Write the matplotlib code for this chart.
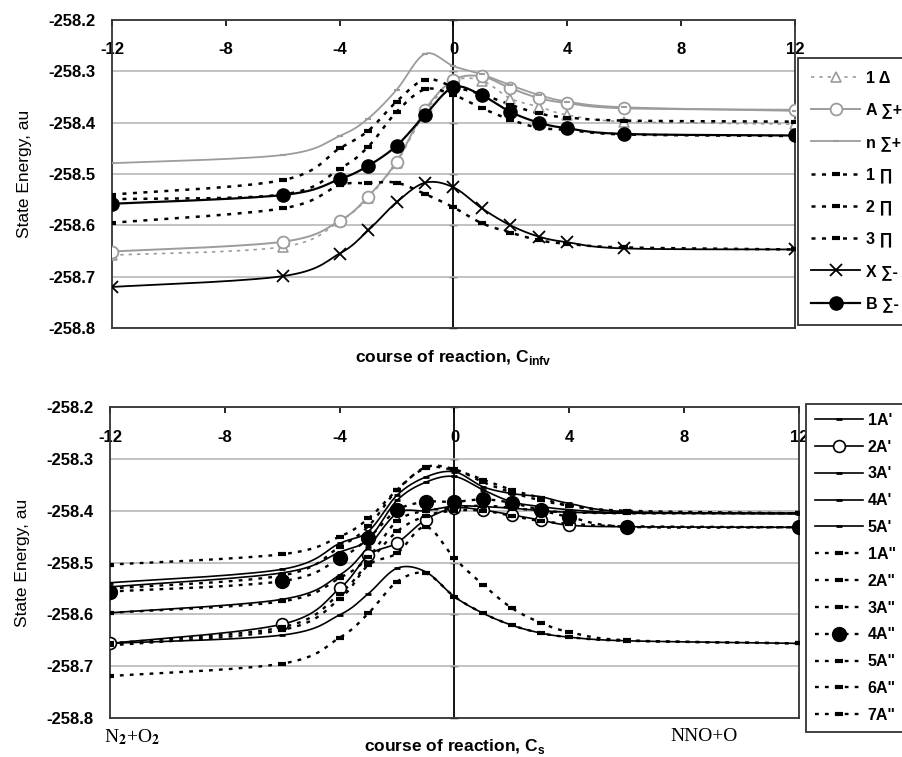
import numpy as np
import matplotlib
matplotlib.use('Agg')
import matplotlib.pyplot as plt
from matplotlib.lines import Line2D

plt.rcParams['font.family'] = ['Liberation Sans', 'DejaVu Sans']
plt.rcParams['font.weight'] = 'bold'
plt.rcParams['axes.unicode_minus'] = False
plt.rcParams['mathtext.fontset'] = 'custom'
plt.rcParams['mathtext.bf'] = 'Liberation Sans:bold'
plt.rcParams['mathtext.rm'] = 'Liberation Sans:bold'

# reaction coordinate (both panels)
x = [-12, -6, -4, -3, -2, -1, 0, 1, 2, 3, 4, 6, 12]

# --- top panel, C_infv states ---
d1 = [-258.658, -258.642, -258.592, -258.546, -258.478, -258.380, -258.320,
      -258.318, -258.353, -258.369, -258.385, -258.398, -258.403]
a_sp = [-258.651, -258.632, -258.591, -258.544, -258.476, -258.375, -258.317,
        -258.310, -258.333, -258.352, -258.362, -258.372, -258.375]
n_sp = [-258.479, -258.463, -258.426, -258.392, -258.336, -258.266, -258.290,
        -258.306, -258.327, -258.346, -258.359, -258.370, -258.377]
p1 = [-258.540, -258.512, -258.450, -258.416, -258.359, -258.316, -258.330,
      -258.345, -258.365, -258.382, -258.390, -258.396, -258.398]
p2 = [-258.549, -258.540, -258.490, -258.447, -258.379, -258.335, -258.346,
      -258.372, -258.394, -258.410, -258.414, -258.423, -258.426]
p3 = [-258.595, -258.567, -258.522, -258.518, -258.517, -258.539, -258.565,
      -258.596, -258.614, -258.629, -258.636, -258.643, -258.647]
x_sm = [-258.720, -258.699, -258.655, -258.610, -258.555, -258.517, -258.526,
        -258.567, -258.600, -258.622, -258.633, -258.645, -258.647]
b_sm = [-258.558, -258.541, -258.510, -258.484, -258.445, -258.385, -258.331,
        -258.347, -258.379, -258.400, -258.411, -258.422, -258.425]
top_labels = ['1 Δ', 'A ∑+', 'n ∑+', '1 ∏', '2 ∏', '3 ∏', 'X ∑-', 'B ∑-']

# --- bottom panel, C_s states ---
s1 = [-258.656, -258.640, -258.601, -258.560, -258.511, -258.518, -258.566,
      -258.598, -258.621, -258.636, -258.644, -258.651, -258.656]
s2 = [-258.656, -258.619, -258.550, -258.486, -258.462, -258.417, -258.395,
      -258.399, -258.408, -258.418, -258.428, -258.431, -258.432]
s3 = [-258.597, -258.571, -258.524, -258.470, -258.405, -258.400, -258.391,
      -258.392, -258.395, -258.400, -258.403, -258.405, -258.405]
s4 = [-258.539, -258.513, -258.463, -258.440, -258.370, -258.335, -258.325,
      -258.354, -258.367, -258.373, -258.386, -258.402, -258.405]
s5 = [-258.547, -258.520, -258.480, -258.455, -258.380, -258.345, -258.334,
      -258.360, -258.383, -258.392, -258.398, -258.404, -258.406]
t1 = [-258.504, -258.484, -258.450, -258.415, -258.360, -258.316, -258.320,
      -258.345, -258.365, -258.380, -258.390, -258.402, -258.405]
t2 = [-258.656, -258.625, -258.560, -258.500, -258.440, -258.410, -258.400,
      -258.400, -258.410, -258.420, -258.425, -258.430, -258.432]
t3 = [-258.550, -258.525, -258.470, -258.430, -258.360, -258.318, -258.322,
      -258.340, -258.360, -258.375, -258.390, -258.400, -258.405]
t4 = [-258.556, -258.536, -258.492, -258.453, -258.399, -258.383, -258.383,
      -258.378, -258.385, -258.399, -258.412, -258.431, -258.432]
t5 = [-258.597, -258.575, -258.530, -258.490, -258.420, -258.400, -258.395,
      -258.390, -258.395, -258.400, -258.403, -258.405, -258.405]
t6 = [-258.660, -258.630, -258.570, -258.505, -258.482, -258.431, -258.492,
      -258.543, -258.588, -258.616, -258.634, -258.650, -258.656]
t7 = [-258.719, -258.695, -258.645, -258.598, -258.537, -258.521, -258.566,
      -258.598, -258.621, -258.636, -258.644, -258.651, -258.656]
bot_labels = ["1A'", "2A'", "3A'", "4A'", "5A'",
              '1A"', '2A"', '3A"', '4A"', '5A"', '6A"', '7A"']

yticks = [-258.8, -258.7, -258.6, -258.5, -258.4, -258.3, -258.2]
xticks = [-12, -8, -4, 0, 4, 8, 12]

GREY = '#9c9c9c'
DOT = (0, (1.6, 2.6))


def smooth(xv, yv, n=16):
    # excel style smoothed line (catmull-rom bezier)
    pts = np.column_stack([xv, yv]).astype(float)
    p = np.vstack([pts[0], pts, pts[-1]])
    t = np.linspace(0, 1, n, endpoint=False)[:, None]
    out = []
    for i in range(1, len(p) - 2):
        p0, q1, q2, p3_ = p[i - 1], p[i], p[i + 1], p[i + 2]
        c1 = q1 + (q2 - p0) / 6
        c2 = q2 - (p3_ - q1) / 6
        out.append((1 - t) ** 3 * q1 + 3 * (1 - t) ** 2 * t * c1
                   + 3 * (1 - t) * t ** 2 * c2 + t ** 3 * q2)
    out.append(pts[-1:])
    out = np.vstack(out)
    return out[:, 0], out[:, 1]


def draw(ax, yv, label, ls='-', color='black', lw=1.2, z=3, **mk):
    sx, sy = smooth(x, yv)
    ax.plot(sx, sy, ls=ls, color=color, lw=lw, zorder=z)
    ax.plot(x, yv, ls='none', color=color, zorder=z + 0.5, **mk)
    return Line2D([], [], ls=ls, color=color, lw=lw, label=label, **mk)


def setup(ax):
    ax.set_xlim(-12, 12)
    ax.set_ylim(-258.8, -258.2)
    ax.set_yticks(yticks)
    ax.set_yticklabels([f'{v:.1f}' for v in yticks])
    ax.tick_params(axis='y', length=0, pad=12, labelsize=12)
    ax.xaxis.tick_top()
    ax.set_xticks(xticks)
    ax.set_xticklabels([str(v) for v in xticks])
    ax.tick_params(axis='x', direction='in', length=4, width=1.2,
                   pad=-27, labelsize=12)
    ax.grid(axis='y', color='#b8b8b8', lw=1.2)
    ax.set_axisbelow(True)
    for sp in ax.spines.values():
        sp.set_linewidth(1.3)
        sp.set_color('#333333')
    sec = ax.secondary_yaxis(0.5)
    sec.set_yticks(yticks)
    sec.tick_params(axis='y', direction='inout', length=6, width=1.0,
                    labelleft=False, labelright=False)
    sec.spines['left'].set_linewidth(1.3)
    sec.spines['right'].set_linewidth(1.3)
    ax.set_ylabel('State Energy, au', fontsize=12.5, labelpad=12)


fig = plt.figure(figsize=(9.03, 7.57), dpi=100)
ax1 = fig.add_axes([0.124, 0.5667, 0.7564, 0.4069])
ax2 = fig.add_axes([0.1218, 0.0515, 0.763, 0.4108])
setup(ax1)
setup(ax2)

# top panel
dash = dict(marker='_', ms=6, mew=3)
h_top = [
    draw(ax1, d1, top_labels[0], ls=(0, (2, 3)), color=GREY, lw=1.2,
         marker='^', ms=7, mfc='white', mec=GREY, mew=1.2),
    draw(ax1, a_sp, top_labels[1], color=GREY, lw=1.4,
         marker='o', ms=8.5, mfc='white', mec=GREY, mew=1.3),
    draw(ax1, n_sp, top_labels[2], color=GREY, lw=1.3,
         marker='_', ms=4, mew=1.5),
    draw(ax1, p1, top_labels[3], ls=DOT, lw=1.8, **dash),
    draw(ax1, p2, top_labels[4], ls=DOT, lw=1.8, **dash),
    draw(ax1, p3, top_labels[5], ls=DOT, lw=1.8, **dash),
    draw(ax1, x_sm, top_labels[6], lw=1.3, marker='x', ms=8, mew=1.3),
    draw(ax1, b_sm, top_labels[7], lw=1.6, z=4, marker='o', ms=9.5),
]
ax1.legend(handles=h_top, loc='upper left', bbox_to_anchor=(0.8837, 0.9234),
           bbox_transform=fig.transFigure, fontsize=11.5, frameon=True,
           fancybox=False, edgecolor='#333333', framealpha=1,
           handlelength=3.1, handletextpad=0.35, labelspacing=1.04,
           borderpad=0.8, borderaxespad=0).get_frame().set_linewidth(1.3)
ax1.text(0.5, -0.095, r'course of reaction, C$_{\mathbf{infv}}$',
         transform=ax1.transAxes, ha='center', va='center', fontsize=12.5)

# bottom panel
sdash = dict(marker='_', ms=5, mew=2)
h_bot = [
    draw(ax2, s1, bot_labels[0], **sdash),
    draw(ax2, s2, bot_labels[1], marker='o', ms=8.5, mfc='white',
         mec='black', mew=1.2),
    draw(ax2, s3, bot_labels[2], **sdash),
    draw(ax2, s4, bot_labels[3], **sdash),
    draw(ax2, s5, bot_labels[4], **sdash),
    draw(ax2, t1, bot_labels[5], ls=DOT, lw=1.7, **dash),
    draw(ax2, t2, bot_labels[6], ls=DOT, lw=1.7, **dash),
    draw(ax2, t3, bot_labels[7], ls=DOT, lw=1.7, **dash),
    draw(ax2, t4, bot_labels[8], ls=DOT, lw=1.7, z=4, marker='o', ms=10),
    draw(ax2, t5, bot_labels[9], ls=DOT, lw=1.7, **dash),
    draw(ax2, t6, bot_labels[10], ls=DOT, lw=1.7, **dash),
    draw(ax2, t7, bot_labels[11], ls=DOT, lw=1.7, **dash),
]
ax2.legend(handles=h_bot, loc='upper left', bbox_to_anchor=(0.8926, 0.4663),
           bbox_transform=fig.transFigure, fontsize=11.5, frameon=True,
           fancybox=False, edgecolor='#333333', framealpha=1,
           handlelength=3.0, handletextpad=0.3, labelspacing=0.74,
           borderpad=0.55, borderaxespad=0).get_frame().set_linewidth(1.3)
ax2.text(0.5, -0.093, r'course of reaction, C$_{\mathbf{s}}$',
         transform=ax2.transAxes, ha='center', va='center', fontsize=12.5)
ax2.text(-0.008, -0.061, 'N$_2$+O$_2$', transform=ax2.transAxes,
         ha='left', va='center', fontsize=14, fontweight='normal',
         family='Liberation Serif', math_fontfamily='stix')
ax2.text(0.813, -0.061, 'NNO+O', transform=ax2.transAxes,
         ha='left', va='center', fontsize=14, fontweight='normal',
         family='Liberation Serif')

fig.savefig('out.png', dpi=100)
